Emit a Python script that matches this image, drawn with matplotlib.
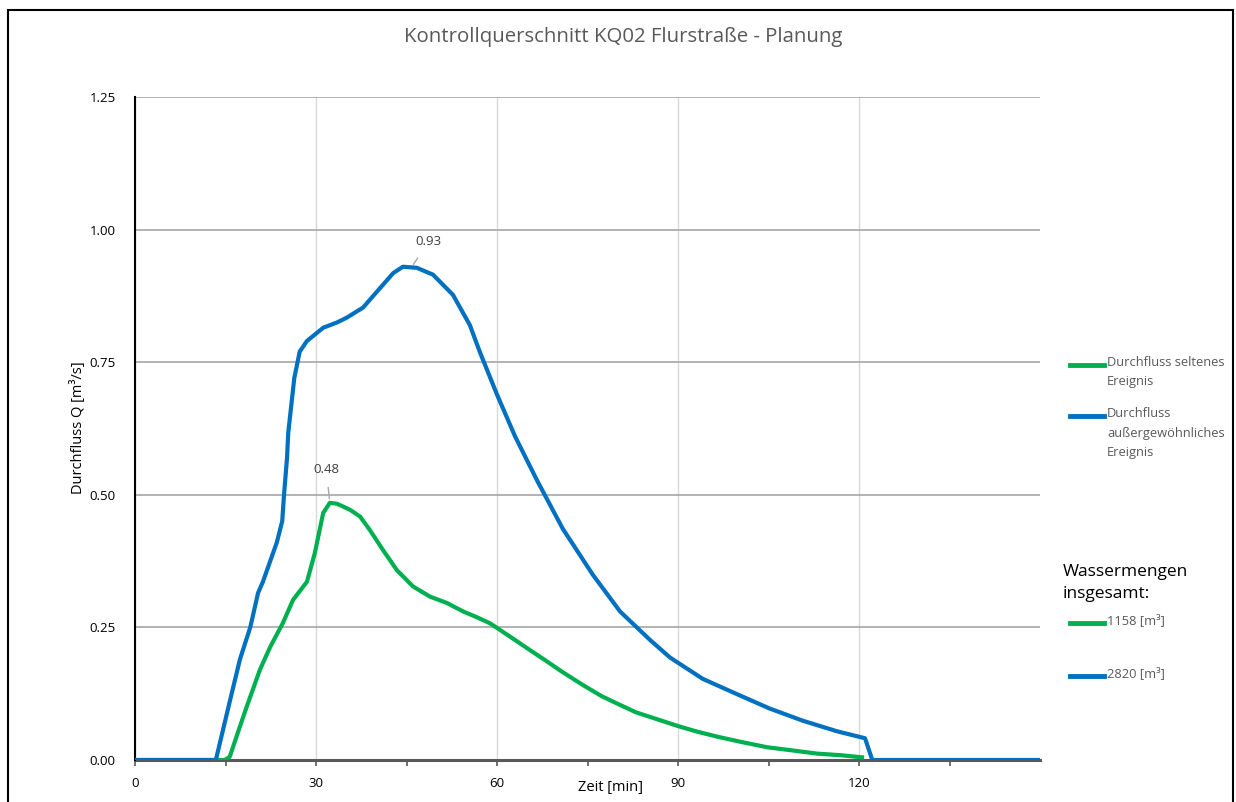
import matplotlib.pyplot as plt
from matplotlib.lines import Line2D
from matplotlib.patches import Rectangle

plt.rcParams['font.family'] = ['Open Sans', 'DejaVu Sans']

# Durchfluss seltenes Ereignis (gruen)
t_selten = [0, 14.9, 15.7, 17.0, 18.5, 20.7, 22.4, 24.5, 26.2, 28.5, 29.8, 31.2, 32.3,
            33.5, 35.6, 37.3, 38.9, 41.1, 43.4, 46.1, 48.9, 51.7, 54.4, 56.5, 58.8,
            60.0, 62.5, 65.1, 68.0, 70.7, 74.0, 77.4, 80.0, 83.0, 86.5, 90.0, 93.0,
            96.5, 100.5, 104.8, 109.0, 113.1, 117.0, 120.5]
q_selten = [0, 0, 0.006, 0.05, 0.10, 0.17, 0.213, 0.258, 0.302, 0.336, 0.39, 0.466, 0.485,
            0.483, 0.472, 0.459, 0.434, 0.396, 0.358, 0.327, 0.308, 0.296, 0.28, 0.27, 0.258,
            0.249, 0.23, 0.21, 0.188, 0.167, 0.143, 0.12, 0.106, 0.09, 0.077, 0.064, 0.054,
            0.044, 0.034, 0.024, 0.018, 0.012, 0.009, 0.005]

# Durchfluss aussergewoehnliches Ereignis (blau)
t_ausserg = [0, 13.4, 15.7, 17.4, 19.1, 20.4, 21.2, 23.5, 24.4, 24.7, 25.2, 25.4, 26.4,
             27.3, 28.5, 31.2, 33.5, 35.1, 37.8, 40.1, 42.8, 44.4, 46.7, 49.4, 52.7,
             55.5, 57.2, 60.0, 63.0, 66.6, 70.9, 75.9, 80.4, 85.4, 88.7, 94.1, 99.8,
             105.2, 110.7, 116.4, 121.0, 122.2, 150]
q_ausserg = [0, 0, 0.11, 0.19, 0.25, 0.315, 0.336, 0.41, 0.45, 0.50, 0.57, 0.617, 0.72,
             0.77, 0.79, 0.815, 0.825, 0.834, 0.853, 0.883, 0.918, 0.93, 0.928, 0.915, 0.877,
             0.82, 0.768, 0.689, 0.61, 0.528, 0.436, 0.349, 0.28, 0.226, 0.193, 0.153, 0.124,
             0.097, 0.074, 0.054, 0.041, 0, 0]

label_selten = 'Durchfluss seltenes\nEreignis'
label_ausserg = 'Durchfluss\naußergewöhnliches\nEreignis'
menge_selten = '1158 [m³]'
menge_ausserg = '2820 [m³]'

green = '#00B050'
blue = '#0070C0'
textgrey = '#595959'

fig = plt.figure(figsize=(12.36, 8.02), dpi=100)
ax = fig.add_axes([135 / 1236, 1 - 760 / 802, 905 / 1236, 663 / 802])

ax.plot(t_selten, q_selten, color=green, lw=3, solid_joinstyle='round', zorder=3)
ax.plot(t_ausserg, q_ausserg, color=blue, lw=3, solid_joinstyle='round', zorder=4)

ax.set_xlim(0, 150)
ax.set_ylim(0, 1.25)
ax.set_xticks([0, 30, 60, 90, 120])
ax.set_xticks(range(15, 151, 30), minor=True)
ax.set_yticks([0, 0.25, 0.5, 0.75, 1.0, 1.25])
ax.set_yticklabels(['0.00', '0.25', '0.50', '0.75', '1.00', '1.25'])
ax.tick_params(axis='x', which='both', direction='out', length=4, width=1.2,
               color='#595959', labelsize=9.5, labelcolor='black', pad=8)
ax.tick_params(axis='y', length=0, labelsize=9.5, labelcolor='black', pad=14)

ax.grid(axis='y', color='#a6a6a6', lw=1.2)
ax.grid(axis='x', which='major', color='#d9d9d9', lw=1.0)
ax.set_axisbelow(True)
for s in ['top', 'right']:
    ax.spines[s].set_visible(False)
ax.spines['left'].set_color('black')
ax.spines['left'].set_linewidth(1.5)
ax.spines['bottom'].set_color('#595959')
ax.spines['bottom'].set_linewidth(2.2)
ax.spines['bottom'].set_zorder(2)

# Spitzenwerte
i_b = q_ausserg.index(max(q_ausserg))
ax.annotate('0.93', xy=(t_ausserg[i_b] + 1.5, q_ausserg[i_b]), xytext=(t_ausserg[i_b] + 4.2, 0.977),
            ha='center', va='center', fontsize=9.5, color='#404040',
            arrowprops=dict(arrowstyle='-', color='#a6a6a6', lw=1, shrinkA=6, shrinkB=2))
i_g = q_selten.index(max(q_selten))
ax.annotate('0.48', xy=(t_selten[i_g], q_selten[i_g]), xytext=(t_selten[i_g] - 0.6, 0.547),
            ha='center', va='center', fontsize=9.5, color='#404040',
            arrowprops=dict(arrowstyle='-', color='#a6a6a6', lw=1, shrinkA=6, shrinkB=3))

fig.text(623 / 1236, 1 - 37 / 802, 'Kontrollquerschnitt KQ02 Flurstraße - Planung',
         ha='center', va='center', fontsize=14.7, color=textgrey)
fig.text(78 / 1236, 1 - 428 / 802, 'Durchfluss Q [m³/s]', rotation=90,
         ha='center', va='center', fontsize=10.5, color='black')
fig.text(610 / 1236, 1 - 788 / 802, 'Zeit [min]', ha='center', va='center',
         fontsize=10.5, color='black')


def legend_entry(y_px, color, text, size=9.3):
    fig.add_artist(Line2D([1070 / 1236, 1104 / 1236], [1 - y_px / 802] * 2,
                          color=color, lw=3.5, transform=fig.transFigure))
    fig.text(1107 / 1236, 1 - (y_px - 9) / 802, text, ha='left', va='top',
             fontsize=size, color=textgrey, linespacing=1.65)


legend_entry(365, green, label_selten)
legend_entry(416, blue, label_ausserg)
fig.text(1063 / 1236, 1 - 564 / 802, 'Wassermengen\ninsgesamt:', ha='left', va='top',
         fontsize=12.5, color='black', linespacing=1.5)
legend_entry(623, green, menge_selten)
legend_entry(676, blue, menge_ausserg)

fig.add_artist(Rectangle((8 / 1236, -0.02), 1225 / 1236, 1.02 - 10 / 802,
                         transform=fig.transFigure, fill=False, edgecolor='black', lw=1.5))

fig.savefig('out.png', dpi=100)
